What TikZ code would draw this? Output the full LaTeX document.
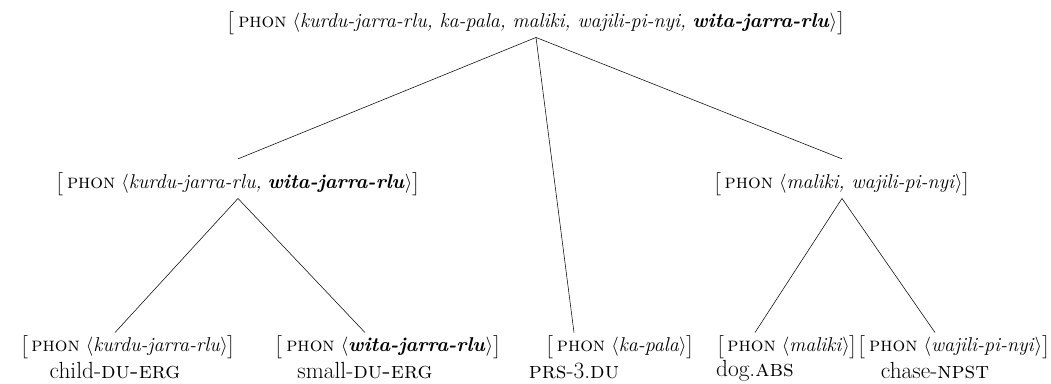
\documentclass[tikz,border=0pt]{standalone}
\usepackage{fontspec}
\usepackage{amsmath}
\newcommand{\phonavm}[1]{$\bigl[$\,\textsc{phon} $\langle$#1$\rangle$$\bigr]$}
\newcommand{\wbf}[1]{\textbf{\textit{#1}}}
\tikzset{
  avm/.style={inner sep=2pt, font=\fontsize{15}{18}\selectfont},
  gloss/.style={inner sep=1pt, font=\fontsize{17.5}{20}\selectfont}
}

\begin{document}
\begin{tikzpicture}[x=0.75pt,y=-0.75pt]
\useasboundingbox (0,0) rectangle (1051,384);

\node[avm] (top) at (536,23) {\phonavm{\textit{kurdu-jarra-rlu, ka-pala, maliki, wajili-pi-nyi,} \wbf{wita-jarra-rlu}}};
\node[avm] (left) at (238,184) {\phonavm{\textit{kurdu-jarra-rlu,} \wbf{wita-jarra-rlu}}};
\node[avm] (right) at (842,184) {\phonavm{\textit{maliki, wajili-pi-nyi}}};

\node[avm] (kurdu) at (128,347) {\phonavm{\textit{kurdu-jarra-rlu}}};
\node[avm] (wita) at (388,347) {\phonavm{\wbf{wita-jarra-rlu}}};
\node[avm] (kapala) at (620,347) {\phonavm{\textit{ka-pala}}};
\node[avm] (maliki) at (787,347) {\phonavm{\textit{maliki}}};
\node[avm] (wajili) at (954,347) {\phonavm{\textit{wajili-pi-nyi}}};

\node[gloss] (kurduG) at (115,371) {child-\textsc{du-erg}};
\node[gloss] (witaG) at (365,371) {small-\textsc{du-erg}};
\node[gloss] (kapalaG) at (574,371) {\textsc{prs}-3.\textsc{du}};
\node[gloss] (malikiG) at (755,371) {dog.\textsc{abs}};
\node[gloss] (wajiliG) at (935,371) {chase-\textsc{npst}};

\draw (top.south) -- ([yshift=8pt]left.north);
\draw (top.south) -- (kapalaG |- kapala.north);
\draw (top.south) -- ([yshift=8pt]right.north);

\draw (left.south) -- (kurduG |- kurdu.north);
\draw (left.south) -- (witaG |- wita.north);
\draw (right.south) -- (malikiG |- maliki.north);
\draw (right.south) -- (wajiliG |- wajili.north);
\end{tikzpicture}
\end{document}
